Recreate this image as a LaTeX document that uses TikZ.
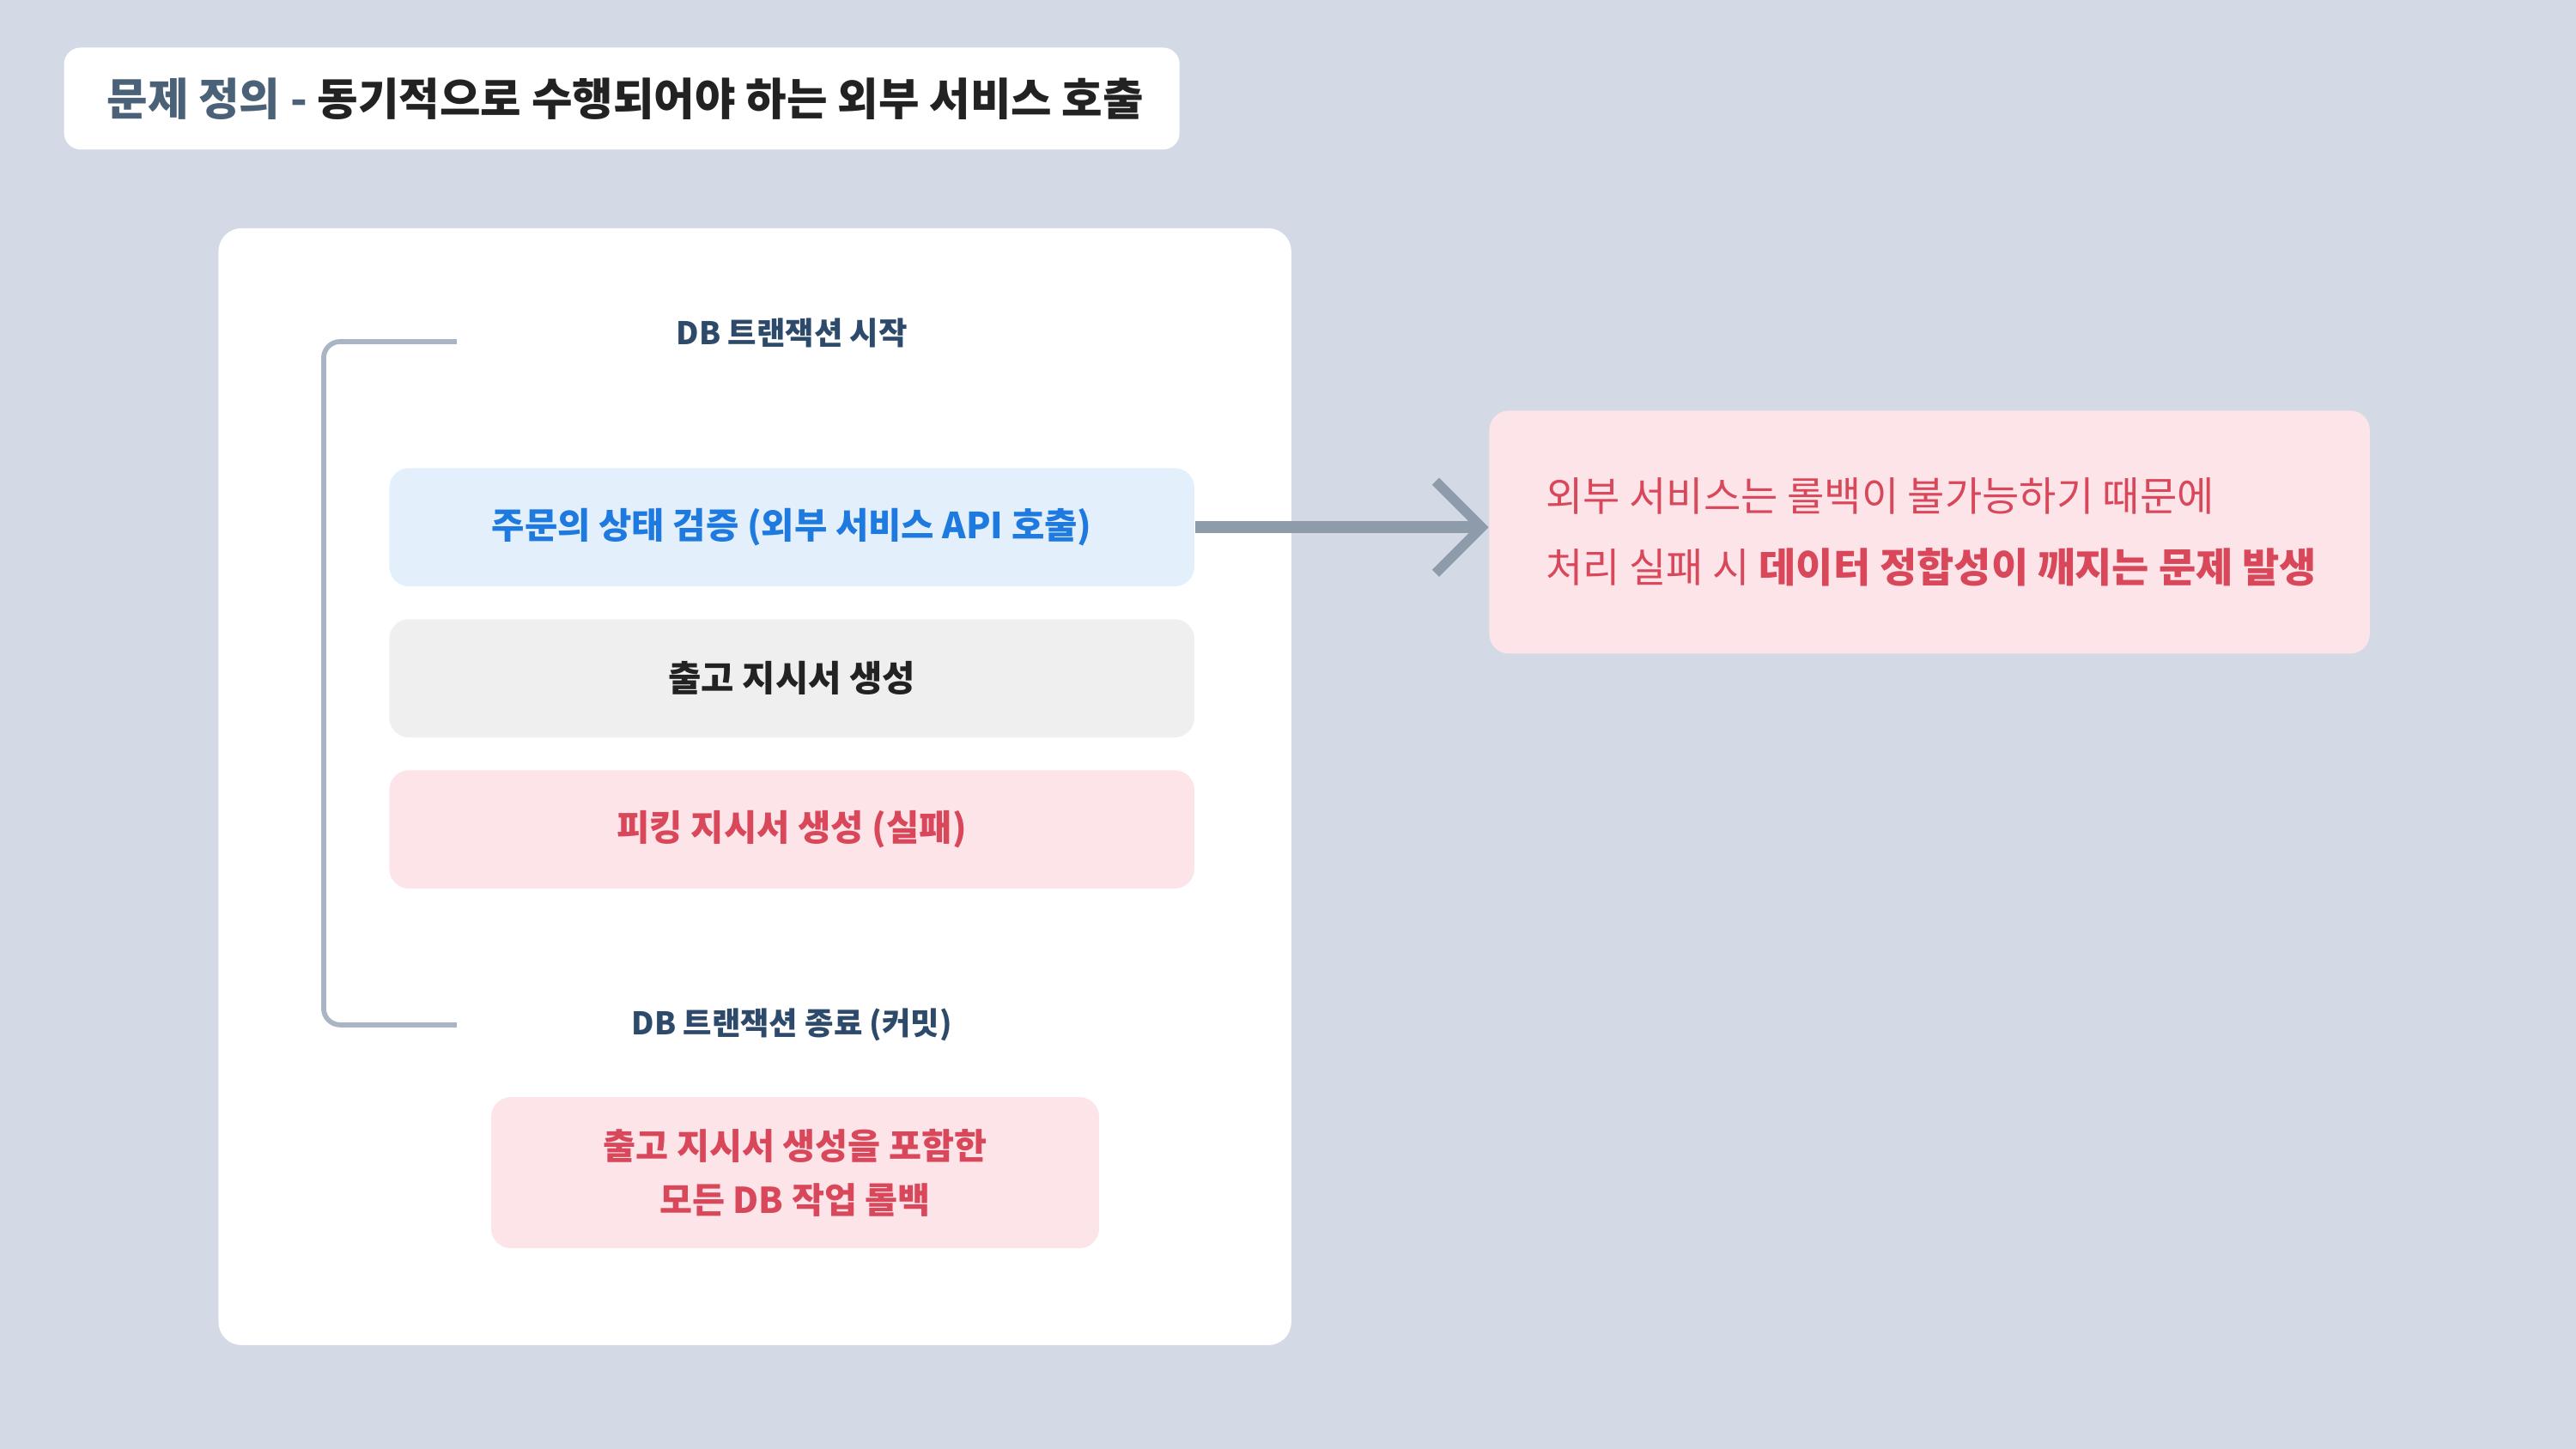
\documentclass[tikz,border=0pt]{standalone}
\usepackage{fontspec}
\setmainfont{Noto Sans CJK KR}
\usetikzlibrary{arrows.meta}
\definecolor{bg}{HTML}{D3D9E5}
\definecolor{titlegray}{HTML}{4A6177}
\definecolor{dark}{HTML}{222222}
\definecolor{navy}{HTML}{2E4A6B}
\definecolor{bluebg}{HTML}{E3F0FC}
\definecolor{bluetx}{HTML}{1F7AE0}
\definecolor{graybg}{HTML}{EFEFEF}
\definecolor{pinkbg}{HTML}{FCE4E8}
\definecolor{redtx}{HTML}{D9475A}
\definecolor{line}{HTML}{A9B4C4}
\definecolor{arrowc}{HTML}{8E9BAA}
\tikzset{
 card/.style={rounded corners=6pt, inner sep=0pt},
 stepbox/.style={card, minimum width=245pt, minimum height=36pt, font=\fontsize{10.9}{13}\selectfont\bfseries},
 dblabel/.style={text=navy, font=\fontsize{9.5}{11}\selectfont\bfseries},
}
\begin{document}
\begin{tikzpicture}[x=0.5pt,y=-0.5pt]
\fill[bg] (0,0) rectangle (1568,882);
\useasboundingbox (0,0) rectangle (1568,882);
% title
\fill[white, rounded corners=5pt] (39,29) rectangle (718,91);
\node[anchor=west, font=\fontsize{13.5}{16}\selectfont\bfseries] (title) at (58,60)
 {\textcolor{titlegray}{문제 정의 -} \textcolor{dark}{동기적으로 수행되어야 하는 외부 서비스 호출}};
% panel
\fill[white, rounded corners=7pt] (133,139) rectangle (786,819);
% bracket
\coordinate (bt) at (278,208);
\coordinate (bb) at (278,624);
\draw[line, line width=1.5pt, rounded corners=5pt] (bt) -- (197,208) -- (197,624) -- (bb);
\node[dblabel] (start) at (482,203) {DB 트랜잭션 시작};
\node[stepbox, fill=bluebg, text=bluetx] (b1) at (482,321) {주문의 상태 검증 (외부 서비스 API 호출)};
\node[stepbox, fill=graybg, text=dark] (b2) at (482,413) {출고 지시서 생성};
\node[stepbox, fill=pinkbg, text=redtx] (b3) at (482,505) {피킹 지시서 생성 (실패)};
\node[dblabel] (end) at (482,624) {DB 트랜잭션 종료 (커밋)};
\node[card, fill=pinkbg, text=redtx, minimum width=185pt, minimum height=46pt, align=center,
 font=\fontsize{10.8}{16.5}\selectfont\bfseries] (b4) at (484,714) {출고 지시서 생성을 포함한\\모든 DB 작업 롤백};
% right box
\node[card, fill=pinkbg, minimum width=268pt, minimum height=74pt] (rb) at (1174.5,324) {};
\node[anchor=west, text=redtx, align=left, font=\fontsize{12.3}{21.5}\selectfont] (rt) at (934,324)
 {외부 서비스는 롤백이 불가능하기 때문에\\처리 실패 시 \textbf{데이터 정합성이 깨지는 문제 발생}};
% arrow
\draw[arrowc, line width=3.5pt, -{Straight Barb[length=14pt,width=28pt,line width=3pt]}] (b1.east) -- (b1.east -| rb.west);
\end{tikzpicture}
\end{document}
